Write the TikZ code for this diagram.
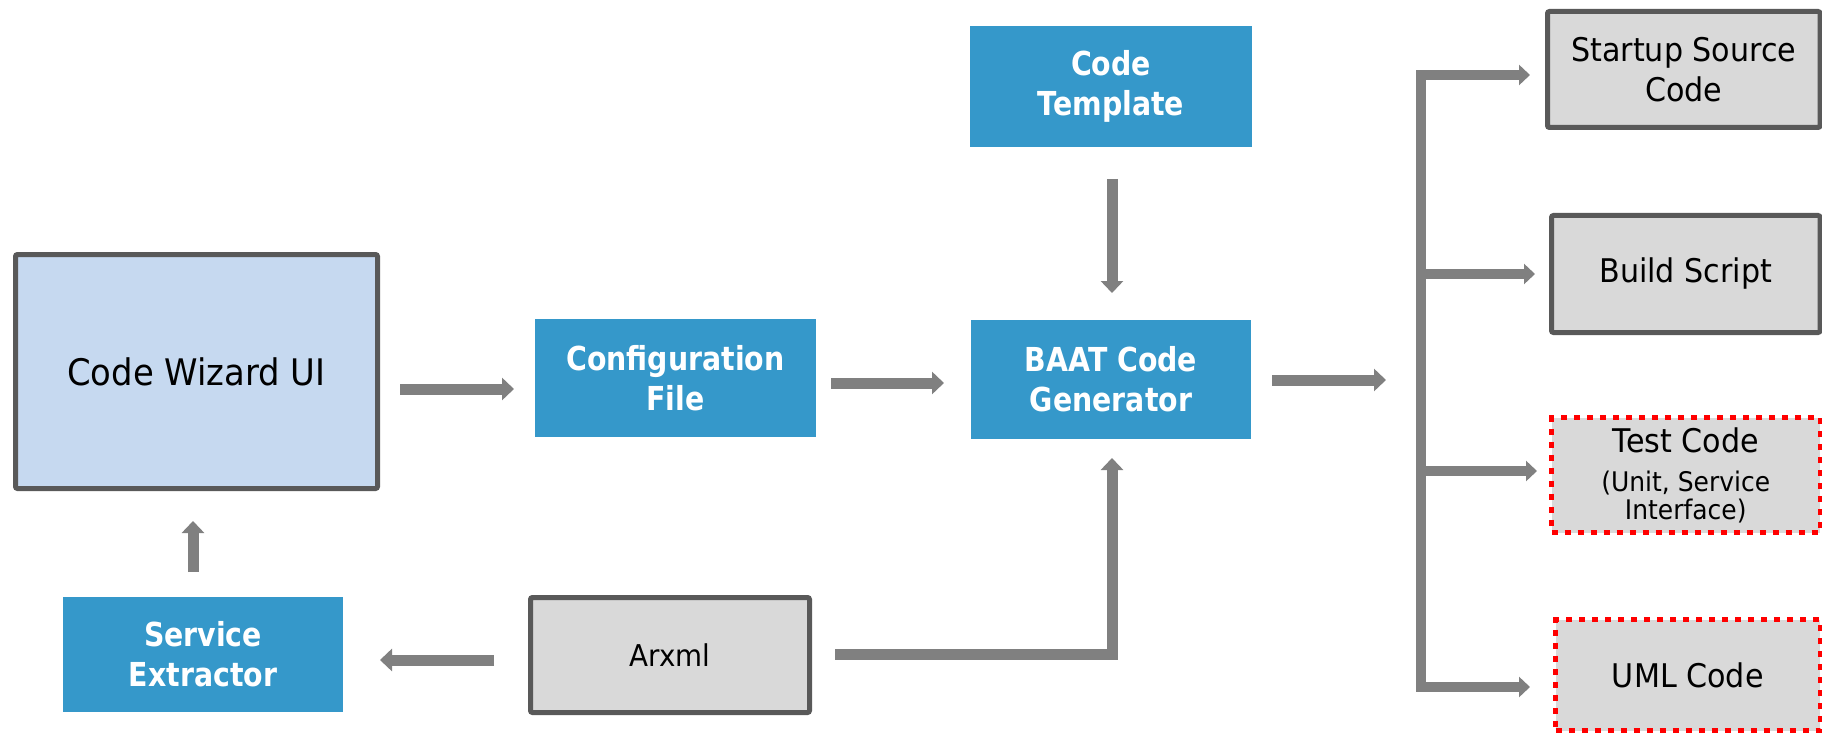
\documentclass[tikz,border=0pt]{standalone}
\usepackage{fontspec}
\setmainfont{DejaVu Sans}[FakeStretch=0.925]
\newfontfamily\bfam{DejaVu Sans}[FakeStretch=0.86]
\usetikzlibrary{arrows.meta,calc}
\definecolor{boxblue}{RGB}{53,152,202}
\definecolor{cwfill}{RGB}{198,217,240}
\definecolor{boxgray}{RGB}{217,217,217}
\definecolor{boxborder}{RGB}{89,89,89}
\definecolor{arrgray}{RGB}{128,128,128}
\newcommand{\subtxt}{\fontsize{13.5}{14}\selectfont}
\begin{document}
\begin{tikzpicture}[x=0.5pt,y=-0.5pt,
  every node/.style={outer sep=0pt, inner sep=0pt},
  bluebox/.style={fill=boxblue, text=white, align=center,
    font=\bfam\bfseries\fontsize{16.5}{20}\selectfont},
  cwbox/.style={fill=cwfill, draw=boxborder, line width=2.5pt, rounded corners=1pt,
    align=center, font=\fontsize{18.3}{22}\selectfont},
  graybox/.style={fill=boxgray, draw=boxborder, line width=2.5pt, rounded corners=1pt,
    align=center, font=\fontsize{16.3}{20}\selectfont},
  redbox/.style={fill=boxgray, draw=red, line width=2.5pt, dash pattern=on 3pt off 3.5pt,
    align=center, font=\fontsize{16.3}{14}\selectfont},
  arr/.style={draw=arrgray, line width=5.5pt, line join=miter,
    -{Triangle[width=11pt,length=6pt]}},
  branch/.style={draw=arrgray, line width=5pt, line join=miter,
    -{Triangle[width=10pt,length=5.5pt]}},
  busarr/.style={draw=arrgray, line width=5pt, line join=miter,
    {Triangle[width=10pt,length=5.5pt]}-{Triangle[width=10pt,length=5.5pt]}},
]
\useasboundingbox (0,0) rectangle (1822,738);

% nodes
\node[cwbox, minimum width=181pt, minimum height=117pt] (cw) at (196.5,371.5) {Code Wizard UI};
\node[bluebox, minimum width=140.5pt, minimum height=59pt] (cf) at (675.5,378) {Configuration\\File};
\node[bluebox, minimum width=140pt, minimum height=59.5pt] (baat) at (1111,379.5) {BAAT Code\\Generator};
\node[bluebox, minimum width=141pt, minimum height=60.5pt] (ct) at (1111,86.5) {Code\\Template};
\node[bluebox, minimum width=140pt, minimum height=57.5pt] (se) at (203,654.5) {Service\\Extractor};
\node[graybox, font=\fontsize{15}{18}\selectfont, minimum width=139.5pt, minimum height=57.5pt] (arx) at (670,655) {Arxml};
\node[graybox, minimum width=136.25pt, minimum height=58pt] (ssc) at (1683.75,69.5) {Startup Source\\Code};
\node[graybox, minimum width=134.25pt, minimum height=58.5pt] (bs) at (1685.75,274) {Build Script};
\node[redbox, minimum width=134.25pt, minimum height=57.5pt] (tc) at (1685.75,475)
  {Test Code\\[5.5pt]\subtxt (Unit, Service\\\subtxt Interface)};
\node[redbox, minimum width=132.25pt, minimum height=55.5pt] (uml) at (1687.75,675) {UML Code};

% bus coordinates
\coordinate (bustop) at (1421,75);
\coordinate (busbot) at (1421,687);
\coordinate (busin) at (1386,380);
\coordinate (bsb) at ($(bs.west)+(-16.5,0)$);
\coordinate (tcb) at ($(tc.west)+(-14.5,-4)$);

% connectors
\draw[arr] ($(cw.east)+(22.5,17.5)$) -- ($(cf.west)+(-21,11)$);
\draw[arr] ($(cf.east)+(15,5)$) -- ($(baat.west)+(-27,3.5)$);
\draw[arr] ($(ct.south)+(1,32)$) -- ($(baat.north)+(1,-27)$);
\draw[arr] ($(baat.east)+(21,0.5)$) -- (busin);
\draw[busarr] ($(ssc.west)+(-17.5,5.5)$) -- (bustop) -- (busbot) -- ($(uml.west)+(-25.5,12)$);
\draw[branch] (bsb -| bustop) -- (bsb);
\draw[branch] (tcb -| bustop) -- (tcb);
\draw[arr] ($(arx.west)+(-36.5,5)$) -- ($(se.east)+(37,5.5)$);
\draw[arr] ($(se.north)+(-10,-25)$) -- ($(cw.south)+(-3.5,32.5)$);
\draw[arr] ($(arx.east)+(25.5,-1)$) -| ($(baat.south)+(1,19)$);
\end{tikzpicture}
\end{document}
